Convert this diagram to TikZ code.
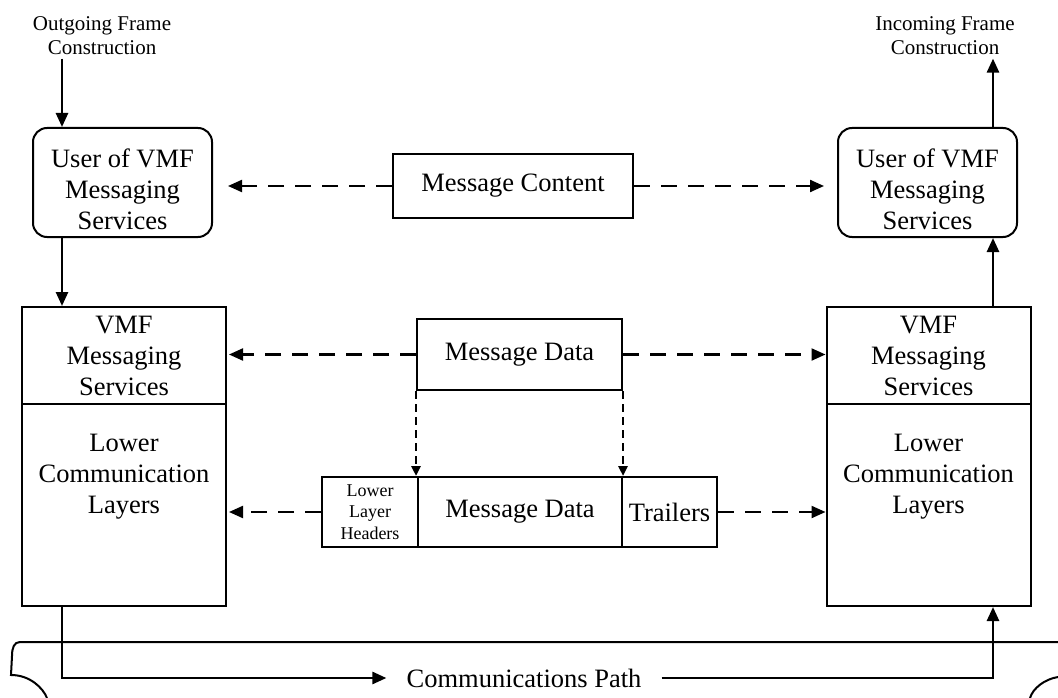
\documentclass[tikz,border=0pt]{standalone}
\usepackage{fontspec}
\setmainfont{Liberation Serif}
\usetikzlibrary{arrows.meta}

\begin{document}
\begin{tikzpicture}[x=1pt, y=-1pt,
    big/.style={font=\fontsize{26.5}{31}\selectfont},
    small/.style={font=\fontsize{21}{24}\selectfont},
    userbox/.style={draw, line width=2pt, rounded corners=14pt,
        minimum width=179pt, minimum height=109pt},
    layerbox/.style={draw, line width=2pt, big, align=center, inner sep=0pt,
        minimum width=204pt},
    cellbox/.style={draw, line width=2pt, big, align=center, inner sep=0pt,
        minimum height=70pt},
    arr/.style={line width=2.6pt, -{Triangle[length=14pt, width=12pt]}},
    dasharr/.style={line width=2.2pt, dash pattern=on 16pt off 11pt,
        -{Triangle[length=14pt, width=12pt]}},
    droparr/.style={line width=2.6pt, dash pattern=on 8pt off 5pt,
        -{Triangle[length=10pt, width=9pt]}}]
            \useasboundingbox (0,0) rectangle (1058,698);

            \coordinate (lx) at (62,0);
            \coordinate (rx) at (993,0);

            \node (outtxt) at (102,36) [small, align=center] {Outgoing Frame\\Construction};
            \node (intxt) at (945,36) [small, align=center] {Incoming Frame\\Construction};

            \node (user1) at (122.5,182.5) [userbox] {};
            \node (usertxt1) at (122.5,189) [big, align=center] {User of VMF\\Messaging\\Services};
            \node (user2) at (927.5,182.5) [userbox] {};
            \node (usertxt2) at (927.5,189) [big, align=center] {User of VMF\\Messaging\\Services};
            \node (content) at (513,186) [draw, line width=2pt, big, minimum width=240pt,
                minimum height=64pt, inner sep=0pt] {Message Content};

            \node (vmf1) at (124,355.5) [layerbox, minimum height=97pt] {VMF\\Messaging\\Services};
            \node (low1) at (124,505) [layerbox, minimum height=202pt] {};
            \node (lowtxt1) at (124,477) [big, align=center] {Lower\\Communication\\Layers};
            \node (vmf2) at (928.5,355.5) [layerbox, minimum height=97pt] {VMF\\Messaging\\Services};
            \node (low2) at (928.5,505) [layerbox, minimum height=202pt] {};
            \node (lowtxt2) at (928.5,477) [big, align=center] {Lower\\Communication\\Layers};

            \node (msgdata) at (519.5,354.5) [draw, line width=2pt, big, minimum width=205pt,
                minimum height=71pt, inner sep=0pt] {Message Data};
            \node (hdr) at (370,512) [cellbox, minimum width=96pt,
                font=\fontsize{18}{21.5}\selectfont] {Lower\\Layer\\Headers};
            \node (mdata) at (520,512) [cellbox, minimum width=204pt] {Message Data};
            \node (trl) at (669.5,512) [cellbox, minimum width=95pt] {Trailers};

            \node (comm) at (524,678) [big, inner xsep=20pt, inner ysep=0pt] {Communications Path};

            % frame flow
            \draw[arr] (outtxt.south -| lx) -- (user1.north -| lx);
            \draw[arr] (user1.south -| lx) -- (vmf1.north -| lx);
            \draw[arr] (vmf2.north -| rx) -- (user2.south -| rx);
            \draw[arr] (user2.north -| rx) -- (intxt.south -| rx);
            \draw[arr] (low1.south -| lx) |- (comm.west);
            \draw[arr] (comm.east) -| (low2.south -| rx);

            % peer exchanges
            \draw[dasharr, shorten >=15pt] (content.west) -- (content.west -| user1.east);
            \draw[dasharr, shorten >=13pt] (content.east) -- (content.east -| user2.west);
            \draw[dasharr, shorten >=2pt] (msgdata.west) -- (msgdata.west -| vmf1.east);
            \draw[dasharr] (msgdata.east) -- (msgdata.east -| vmf2.west);
            \draw[dasharr, shorten >=2pt] (hdr.west) -- (hdr.west -| low1.east);
            \draw[dasharr] (trl.east) -- (trl.east -| low2.west);

            \draw[droparr] (msgdata.south west) -- (msgdata.south west |- mdata.north);
            \draw[droparr] (msgdata.south east) -- (msgdata.south east |- mdata.north);

            % network outline
            \draw[line width=2pt] (1058,642) -- (20,642) .. controls (14,642) and (12,648) .. (12,656)
                -- (11,675) .. controls (30,675) and (43,688) .. (47,698);
            \draw[line width=2pt] (1030,698) .. controls (1033,688) and (1045,679) .. (1058,677);

        \end{tikzpicture}
\end{document}
